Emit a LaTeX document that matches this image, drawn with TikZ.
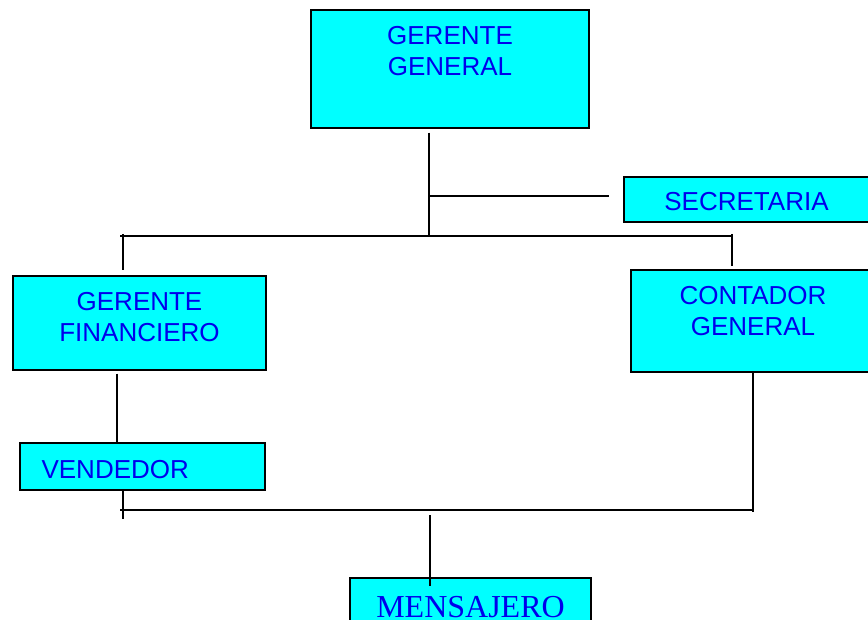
\documentclass[tikz,border=0pt]{standalone}
\usepackage{fontspec}
\setmainfont{Liberation Sans}
\newfontfamily\letraserif{Liberation Serif}
\usetikzlibrary{positioning}

\definecolor{azultxt}{RGB}{0,0,235}
\definecolor{cian}{RGB}{0,255,255}

\tikzset{
  caja/.style={draw=black, line width=1.3pt, fill=cian, rectangle, inner sep=0pt},
  texto/.style={text=azultxt, font=\fontsize{26}{31}\selectfont, align=center, inner sep=0pt},
  linea/.style={line width=1.5pt, black}
}

\begin{document}
\begin{tikzpicture}[x=1pt, y=-1pt]
\useasboundingbox (0,0) rectangle (868,620);
\clip (0,0) rectangle (868,620);

%cajas
\node[caja, minimum width=278pt, minimum height=118pt] (gg) at (450,69) {};
\node[texto, below=17pt of gg.north] (ggt) {GERENTE\\GENERAL};

\node[caja, minimum width=245pt, minimum height=45pt] (sec) at (746.5,199.5) {};
\node[texto, below=16pt of sec.north] (sect) {SECRETARIA};

\node[caja, minimum width=253pt, minimum height=94pt] (gf) at (139.5,323) {};
\node[texto, below=17pt of gf.north] (gft) {GERENTE\\FINANCIERO};

\node[caja, minimum width=244pt, minimum height=102pt] (cg) at (753,321) {};
\node[texto, below=17pt of cg.north] (cgt) {CONTADOR\\GENERAL};

\node[caja, minimum width=245pt, minimum height=47pt] (ven) at (142.5,466.5) {};
\node[texto, anchor=north west] (vent) at ([xshift=22pt, yshift=-18pt]ven.north west) {VENDEDOR};

\node[caja, minimum width=241pt, minimum height=72pt] (men) at (470.5,614) {};
\node[texto, font=\letraserif\fontsize{32}{36}\selectfont, below=19pt of men.north] (ment) {MENSAJERO};

%puntos de las lineas
\coordinate (nudo) at (429,236);
\coordinate (sI) at (429,196);
\coordinate (ramaI) at (120,236);
\coordinate (ramaD) at (733,236);
\coordinate (bI) at (123,234);
\coordinate (bD) at (732,234);
\coordinate (v1) at (117,0);
\coordinate (vI) at (123,519);
\coordinate (bajoI) at (120,510);
\coordinate (bajoD) at (753,510);
\coordinate (cD) at (753,512);
\coordinate (mA) at (430,515);

%lineas arriba
\draw[linea, shorten <=4pt] (gg.south -| nudo) -- (nudo);
\draw[linea, shorten >=14pt] (sI) -- (sI -| sec.west);
\draw[linea] (ramaI) -- (ramaD);
\draw[linea, shorten >=5pt] (bI) -- (bI |- gf.north);
\draw[linea, shorten >=3pt] (bD) -- (bD |- cg.north);

%lineas abajo
\draw[linea, shorten <=3pt] (gf.south -| v1) -- (ven.north -| v1);
\draw[linea] (ven.south -| vI) -- (vI);
\draw[linea] (bajoI) -- (bajoD);
\draw[linea] (cg.south -| cD) -- (cD);
\draw[linea] (mA) -- (men.north -| mA) -- ++(0,9);

\end{tikzpicture}
\end{document}
